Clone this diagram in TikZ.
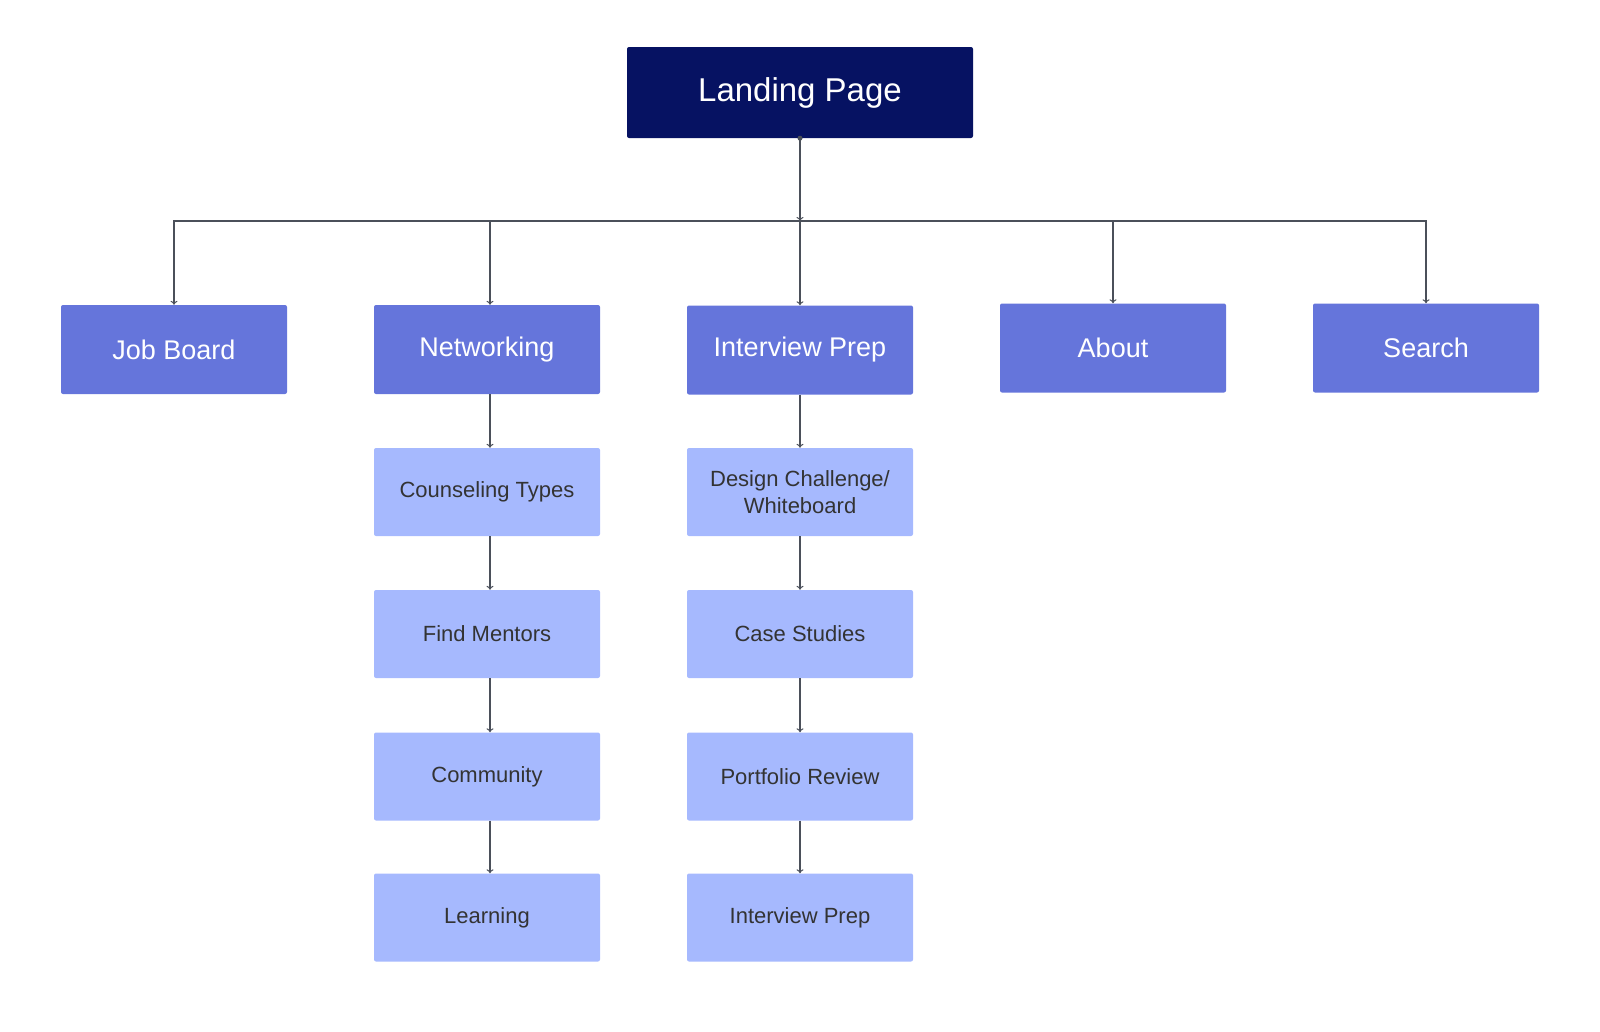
\documentclass[tikz,border=0pt]{standalone}
\usepackage{fontspec}
\setmainfont{Liberation Sans}
\usetikzlibrary{arrows.meta,positioning}
\definecolor{navy}{RGB}{6,18,98}
\definecolor{midblue}{RGB}{101,117,219}
\definecolor{lightblue}{RGB}{166,185,254}
\definecolor{linegray}{RGB}{75,80,90}
\definecolor{txtgray}{RGB}{51,51,51}
\tikzset{
  topbox/.style={fill=navy, text=white, rounded corners=2pt, minimum width=346pt, minimum height=91pt, inner sep=0pt, font=\fontsize{33}{40}\selectfont},
  mainbox/.style={fill=midblue, text=white, rounded corners=2pt, minimum width=226pt, minimum height=89pt, inner sep=0pt, font=\fontsize{27}{32}\selectfont},
  subbox/.style={fill=lightblue, text=txtgray, rounded corners=2pt, minimum width=226pt, minimum height=88pt, inner sep=0pt, align=center, font=\fontsize{22}{27.5}\selectfont},
  conn/.style={draw=linegray, line width=1.4pt, -{To[length=4pt,width=7pt,line width=1pt]}},
}
\begin{document}
\begin{tikzpicture}[x=1pt,y=-1pt]
\useasboundingbox (0,0) rectangle (1600,1031);
\node[topbox] (landing) at (800,92.5) {Landing Page};
\node[mainbox] (job) at (174,349.5) {Job Board};
\node[mainbox] (net) at (487,349.5) {Networking};
\node[mainbox] (ip) at (800,350) {Interview Prep};
\node[mainbox] (about) at (1113,348) {About};
\node[mainbox] (search) at (1426,348) {Search};
\node[subbox] (couns) at (487,492) {Counseling Types};
\node[subbox] (mentor) at (487,634) {Find Mentors};
\node[subbox] (comm) at (487,776.5) {Community};
\node[subbox] (learn) at (487,917.5) {Learning};
\node[subbox] (design) at (800,492) {Design Challenge/\\Whiteboard};
\node[subbox] (case) at (800,634) {Case Studies};
\node[subbox] (port) at (800,776.5) {Portfolio Review};
\node[subbox] (ip2) at (800,917.5) {Interview Prep};
\coordinate (bus) at (800,221);
\fill[linegray] (landing.south) circle (2.5pt);
\draw[conn] (landing.south) -- (bus);
\draw[conn] (bus) -| (job.north);
\draw[conn] (bus) -| ([xshift=3pt]net.north);
\draw[conn] (bus) -- (ip.north);
\draw[conn] (bus) -| (about.north);
\draw[conn] (bus) -| (search.north);
\draw[conn] ([xshift=3pt]net.south) -- ([xshift=3pt]couns.north);
\draw[conn] ([xshift=3pt]couns.south) -- ([xshift=3pt]mentor.north);
\draw[conn] ([xshift=3pt]mentor.south) -- ([xshift=3pt]comm.north);
\draw[conn] ([xshift=3pt]comm.south) -- ([xshift=3pt]learn.north);
\draw[conn] (ip.south) -- (design.north);
\draw[conn] (design.south) -- (case.north);
\draw[conn] (case.south) -- (port.north);
\draw[conn] (port.south) -- (ip2.north);
\end{tikzpicture}
\end{document}
